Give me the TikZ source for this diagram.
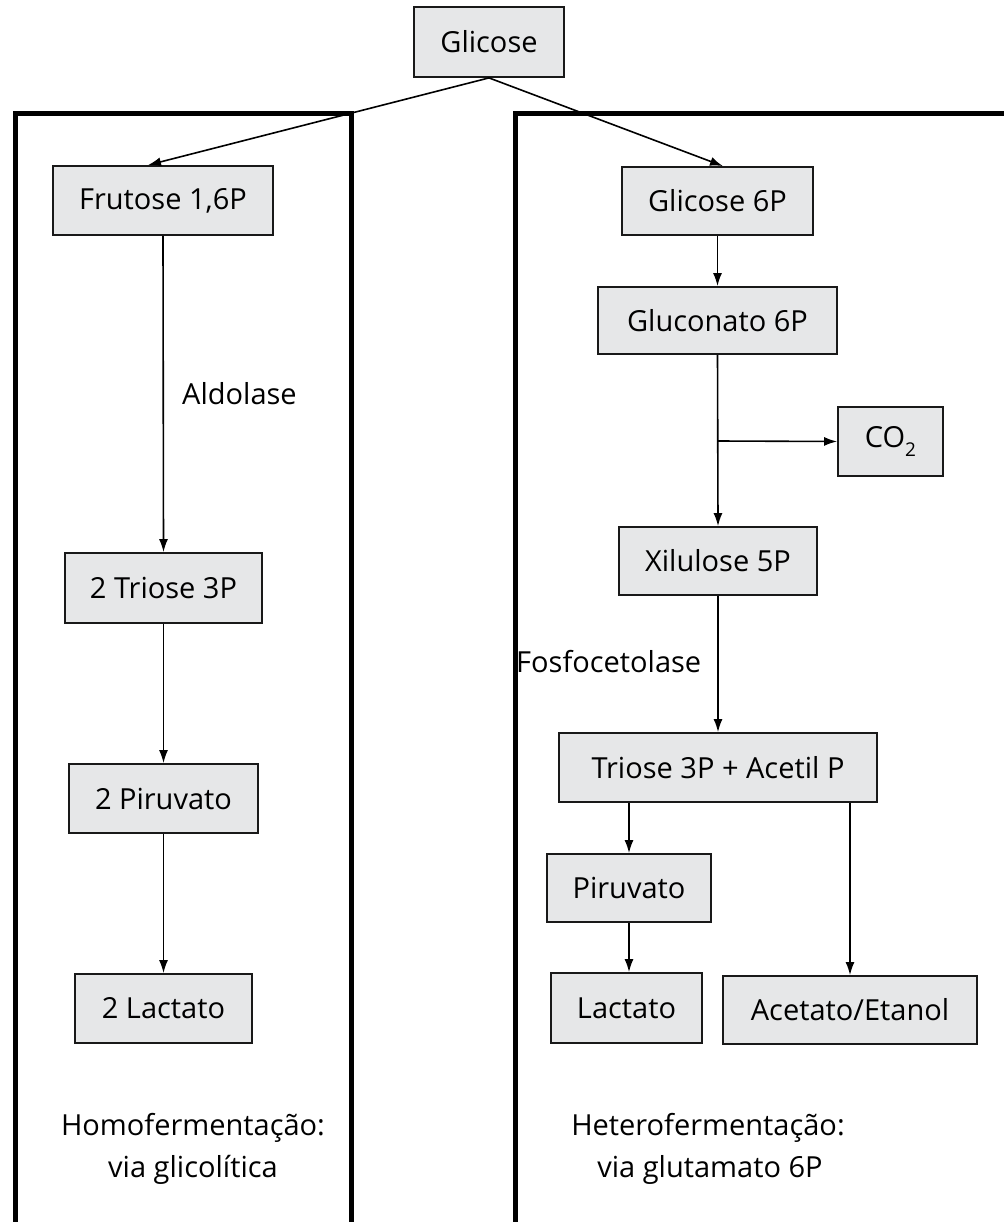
\documentclass[tikz,border=0pt]{standalone}
\usepackage{fontspec}
\setmainfont{Open Sans}
\usetikzlibrary{arrows.meta,calc}
\begin{document}
\begin{tikzpicture}[x=1pt,y=-1pt,
  every node/.style={font=\fontsize{29}{38}\selectfont},
  box/.style={draw=black!90,line width=1.8pt,fill=boxgray,inner sep=0pt,
    minimum width=#1},
  frame/.style={line width=5pt,line cap=rect},
  flow/.style={line width=1.6pt,-{Latex[length=13pt,width=9pt]}},
  lbl/.style={inner sep=0pt,anchor=base west},
  captxt/.style={inner sep=0pt,anchor=base}]
\definecolor{boxgray}{HTML}{E6E7E8}
\useasboundingbox (0,0) rectangle (1003,1222);
% frames
\draw[frame] (15,1230) -- (15,113.5) -- (351.5,113.5) -- (351.5,1230);
\draw[frame] (515,1230) -- (515,113.5) -- (1010,113.5);
% nodes
\node[box=150pt,minimum height=70pt] (glc) at (489,42) {Glicose};
\node[box=220pt,minimum height=69pt] (fru) at (163,200.5) {Frutose 1,6P};
\node[box=191pt,minimum height=68pt] (g6p) at (717.5,201) {Glicose 6P};
\node[box=197pt,minimum height=70pt] (tri2) at (163.5,588) {2 Triose 3P};
\node[box=189pt,minimum height=69pt] (pir2) at (163.5,798.5) {2 Piruvato};
\node[box=177pt,minimum height=69pt] (lac2) at (163.5,1008.5) {2 Lactato};
\node[box=239pt,minimum height=67pt] (glu) at (717.5,320.5) {Gluconato 6P};
\node[box=105pt,minimum height=69pt] (co2) at (890.5,441.5) {CO\raisebox{-0.3em}{\fontsize{19}{19}\selectfont 2}};
\node[box=198pt,minimum height=68pt] (xil) at (718,561) {Xilulose 5P};
\node[box=318pt,minimum height=69pt] (tap) at (718,767.5) {Triose 3P + Acetil P};
\node[box=164pt,minimum height=68pt] (pir) at (629,888) {Piruvato};
\node[box=151pt,minimum height=70pt] (lac) at (626.5,1008) {Lactato};
\node[box=254pt,minimum height=68pt] (ace) at (850,1010) {Acetato/Etanol};
% labels
\node[lbl] (ald) at (182,404) {Aldolase};
\node[lbl] (fos) at (516,672) {Fosfocetolase};
\node[captxt] (homo1) at (193,1135) {Homofermentação:};
\node[captxt] (homo2) at (193,1177) {via glicolítica};
\node[captxt] (het1) at (708,1135) {Heterofermentação:};
\node[captxt] (het2) at (710,1177) {via glutamato 6P};
% connectors
\coordinate (split) at (718,441);
\draw[flow] (glc.south) -- ($(fru.north)+(-15,0)$);
\draw[flow] (glc.south) -- ($(g6p.north)+(5.5,0)$);
\draw[flow] (fru.south) -- (tri2.north);
\draw[flow] (tri2.south) -- (pir2.north);
\draw[flow] (pir2.south) -- (lac2.north);
\draw[flow] (g6p.south) -- (glu.north);
\draw[flow] (glu.south) -- (xil.north);
\draw[flow] (split) -- (co2.west);
\draw[flow] (xil.south) -- (tap.north);
\draw[flow] (tap.south -| pir.north) -- (pir.north);
\draw[flow] (pir.south) -- (pir.south |- lac.north);
\draw[flow] (ace.north |- tap.south) -- (ace.north);
\end{tikzpicture}
\end{document}
